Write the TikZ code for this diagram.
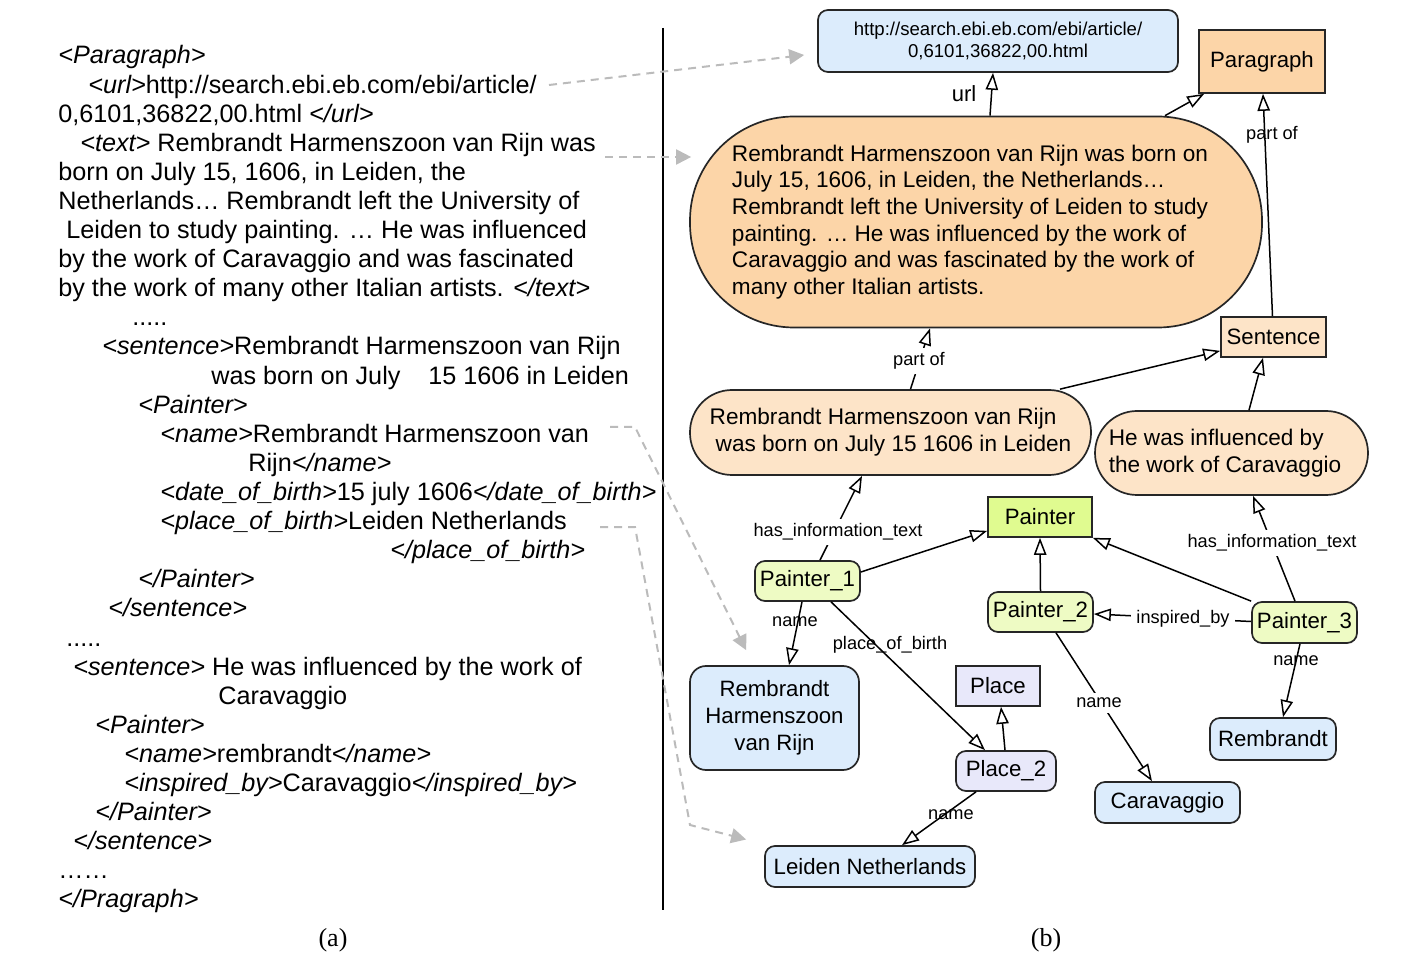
\documentclass[tikz,border=0pt]{standalone}
\usepackage{fontspec}
\setmainfont{Liberation Sans}
\newfontfamily\capfont{Liberation Serif}
\usetikzlibrary{arrows.meta,calc}
\definecolor{bluef}{HTML}{DCECFC}
\definecolor{peachf}{HTML}{FCD5A8}
\definecolor{lpeachf}{HTML}{FDE4C8}
\definecolor{limef}{HTML}{E0FB90}
\definecolor{llimef}{HTML}{EEFBC4}
\definecolor{lavf}{HTML}{E8E8FA}
\definecolor{dashg}{HTML}{BBBBBB}
\newcommand\tg[1]{\textit{#1}}
\begin{document}
\begin{tikzpicture}[x=0.5pt,y=-0.5pt,
  lt/.style={anchor=base west,inner sep=0pt,font=\fontsize{12.6}{14.5}\selectfont},
  box/.style={draw=black!85,line width=0.85pt,inner sep=0pt,align=center,font=\fontsize{11.1}{13.5}\selectfont},
  rbox/.style={box,rounded corners=5pt},
  rel/.style={draw,line width=0.75pt,-{Triangle[open,length=8.5pt,width=6.2pt]}},
  xref/.style={draw=dashg,line width=1pt,dash pattern=on 4pt off 3pt,-{Triangle[length=7.5pt,width=7.5pt,fill=dashg]}},
  elab/.style={font=\fontsize{9.1}{10}\selectfont,inner sep=1pt},
  elabw/.style={elab,fill=white,inner sep=2.5pt},
  captxt/.style={font=\capfont\fontsize{13}{15}\selectfont,inner sep=0pt}]
\useasboundingbox (0,0) rectangle (1408,978);

% ---------- left: XML text ----------
\node[lt] (l1) at (58,64) {\tg{<Paragraph>}};
\node[lt] (l2) at (88,93.1) {\tg{<url>}http://search.ebi.eb.com/ebi/article/};
\node[lt] (l3) at (58,122.2) {0,6101,36822,00.html \tg{</url>}};
\node[lt] (l4) at (80,151.3) {\tg{<text>} Rembrandt Harmenszoon van Rijn was};
\node[lt] (l5) at (58,180.4) {born on July 15, 1606, in Leiden, the};
\node[lt] (l6) at (58,209.5) {Netherlands… Rembrandt left the University of};
\node[lt] (l7) at (66,238.6) {Leiden to study painting. … He was influenced};
\node[lt] (l8) at (58,267.7) {by the work of Caravaggio and was fascinated};
\node[lt] (l9) at (58,296.8) {by the work of many other Italian artists. \tg{</text>}};
\node[lt] (l10) at (132,325.9) {.....};
\node[lt] (l11) at (102,355) {\tg{<sentence>}Rembrandt Harmenszoon van Rijn};
\node[lt] (l12) at (211,384.1) {was born on July\hspace{14pt}15 1606 in Leiden};
\node[lt] (l13) at (138,413.2) {\tg{<Painter>}};
\node[lt] (l14) at (160,442.3) {\tg{<name>}Rembrandt Harmenszoon van};
\node[lt] (l15) at (248,471.4) {Rijn\tg{</name>}};
\node[lt] (l16) at (160,500.5) {\tg{<date\_of\_birth>}15 july 1606\tg{</date\_of\_birth>}};
\node[lt] (l17) at (160,529.6) {\tg{<place\_of\_birth>}Leiden Netherlands};
\node[lt] (l18) at (390,558.7) {\tg{</place\_of\_birth>}};
\node[lt] (l19) at (138,587.8) {\tg{</Painter>}};
\node[lt] (l20) at (108,616.9) {\tg{</sentence>}};
\node[lt] (l21) at (66,646) {.....};
\node[lt] (l22) at (73,675.1) {\tg{<sentence>} He was influenced by the work of};
\node[lt] (l23) at (218,704.2) {Caravaggio};
\node[lt] (l24) at (95,733.3) {\tg{<Painter>}};
\node[lt] (l25) at (124,762.4) {\tg{<name>}rembrandt\tg{</name>}};
\node[lt] (l26) at (124,791.5) {\tg{<inspired\_by>}Caravaggio\tg{</inspired\_by>}};
\node[lt] (l27) at (95,820.6) {\tg{</Painter>}};
\node[lt] (l28) at (73,849.7) {\tg{</sentence>}};
\node[lt] (l29) at (58,878.8) {……};
\node[lt] (l30) at (58,907.9) {\tg{</Pragraph>}};

% divider
\coordinate (dvt) at (663,28);
\coordinate (dvb) at (663,910);
\draw[line width=1pt] (dvt) -- (dvb);

% captions
\node[captxt] (capa) at (333,940) {(a)};
\node[captxt] (capb) at (1046,940) {(b)};

% ---------- right: graph ----------
\node[rbox,fill=bluef,minimum width=180pt,minimum height=31pt,font=\fontsize{9.3}{10.6}\selectfont] (url) at (998,41)
  {http://search.ebi.eb.com/ebi/article/\\0,6101,36822,00.html};
\node[box,fill=peachf,minimum width=63pt,minimum height=31.5pt] (para) at (1262,61.5) {Paragraph};
\node[box,fill=peachf,minimum width=286pt,minimum height=105.5pt,rounded corners=52pt,align=left,font=\fontsize{11.3}{13.3}\selectfont] (big) at (976,222)
  {Rembrandt Harmenszoon van Rijn was born on\hspace*{6pt}\\July 15, 1606, in Leiden, the Netherlands…\\Rembrandt left the University of Leiden to study\hspace*{6pt}\\painting. … He was influenced by the work of\\Caravaggio and was fascinated by the work of\\many other Italian artists.};
\node[box,fill=lpeachf,minimum width=52.5pt,minimum height=20pt] (sent) at (1273.5,337) {Sentence};
\node[box,fill=lpeachf,minimum width=200.5pt,minimum height=42.5pt,rounded corners=21pt,align=left,font=\fontsize{11.3}{13.5}\selectfont] (s1) at (890.5,432.5)
  {Rembrandt Harmenszoon van Rijn\\\hspace*{3pt}was born on July 15 1606 in Leiden};
\node[box,fill=lpeachf,minimum width=136.5pt,minimum height=42pt,rounded corners=21pt,align=left,font=\fontsize{11.3}{13.5}\selectfont] (s2) at (1231.5,453)
  {He was influenced by\\the work of Caravaggio\hspace*{6.5pt}};
\node[box,fill=limef,minimum width=52pt,minimum height=20pt] (painter) at (1040,517) {Painter};
\node[rbox,fill=llimef,minimum width=52.5pt,minimum height=20pt] (p1) at (807.5,581) {Painter\_1};
\node[rbox,fill=llimef,minimum width=52.5pt,minimum height=20pt] (p2) at (1040.5,612) {Painter\_2};
\node[rbox,fill=llimef,minimum width=52.5pt,minimum height=20.5pt] (p3) at (1304.5,622.5) {Painter\_3};
\node[rbox,fill=bluef,minimum width=84.5pt,minimum height=52pt,rounded corners=8pt] (rhr) at (774.5,718) {Rembrandt\\Harmenszoon\\van Rijn};
\node[box,fill=lavf,minimum width=42pt,minimum height=20pt] (place) at (998,686) {Place};
\node[rbox,fill=lavf,minimum width=50pt,minimum height=20pt] (place2) at (1006,771) {Place\_2};
\node[rbox,fill=bluef,minimum width=72.5pt,minimum height=20.5pt] (cara) at (1167.5,802.5) {Caravaggio};
\node[rbox,fill=bluef,minimum width=63pt,minimum height=21pt] (remb) at (1273,739) {Rembrandt};
\node[rbox,fill=bluef,minimum width=105pt,minimum height=20.5pt] (leiden) at (870,866.5) {Leiden Netherlands};

% relations
\draw[rel] ($(big.north)+(14,0)$) -- ($(url.south)+(-5,0)$);
\draw[rel] ($(big.north)+(189,0)$) -- ($(para.south west)+(6,0)$);
\draw[rel] ($(sent.north)+(-1,0)$) -- ($(para.south)+(1,0)$);
\draw[rel] ($(s1.north)+(20,0)$) -- ($(big.south)+(-46,0)$);
\draw[rel] ($(s1.north)+(169.5,0)$) -- ($(sent.south west)+(0,-7)$);
\draw[rel] ($(s2.north)+(17.5,0)$) -- ($(sent.south)+(-10.5,0)$);
\draw[rel] ($(p1.north)+(12.5,0)$) -- ($(s1.south)+(-28.5,0)$);
\draw[rel] ($(p3.north)+(-9.5,0)$) -- ($(s2.south)+(21.5,0)$);
\draw[rel] ($(p1.east)+(0,-9)$) -- ($(painter.south west)+(0,-7)$);
\draw[rel] (p2.north) -- (painter.south);
\draw[rel] (p3.north west) -- (painter.south east);
\draw[rel] ($(p3.west)+(0,-1)$) -- ($(p2.east)+(0,2)$);
\draw[rel] ($(p1.south)+(-5.5,0)$) -- ($(rhr.north)+(14.5,0)$);
\draw[rel] ($(p1.south)+(23.5,0)$) -- ($(place2.north)+(-21,0)$);
\draw[rel] ($(place2.north)+(-1,0)$) -- ($(place.south)+(3,0)$);
\draw[rel] ($(place2.south)+(-30,0)$) -- ($(leiden.north)+(32,0)$);
\draw[rel] ($(p2.south)+(15.5,0)$) -- ($(cara.north)+(-15.5,0)$);
\draw[rel] ($(p3.south)+(-4.5,0)$) -- ($(remb.north)+(10,0)$);

% relation labels
\node[elab] (lurl) at (964,94) {\fontsize{11}{12}\selectfont url};
\node[elab] (lpo1) at (1272,135) {part of};
\node[elabw] (lpo2) at (919,361) {part of};
\node[elabw] (lhi1) at (838,532) {has\_information\_text};
\node[elabw] (lhi2) at (1272,543) {has\_information\_text};
\node[elabw] (linsp) at (1183,619) {inspired\_by};
\node[elab] (ln1) at (795,622) {name};
\node[elab] (lpob) at (890,645) {place\_of\_birth};
\node[elab] (ln2) at (951,815) {name};
\node[elabw] (ln3) at (1099,703) {name};
\node[elab] (ln4) at (1296,661) {name};

% cross references (dashed)
\coordinate (da) at (549,85);
\coordinate (db) at (605,157);
\coordinate (dc) at (610,427);
\coordinate (dc1) at (635,427);
\coordinate (dd) at (600,527);
\coordinate (dd1) at (635,527);
\coordinate (dd2) at (690,825);
\draw[xref] (da) -- ($(url.west)+(-13,14)$);
\draw[xref] (db) -- ($(big.west)+(2,-65)$);
\draw[xref] (dc) -- (dc1) -- ($(rhr.north west)+(57,-15)$);
\draw[xref] (dd) -- (dd1) -- (dd2) -- ($(leiden.west)+(-18,-27)$);
\end{tikzpicture}
\end{document}
